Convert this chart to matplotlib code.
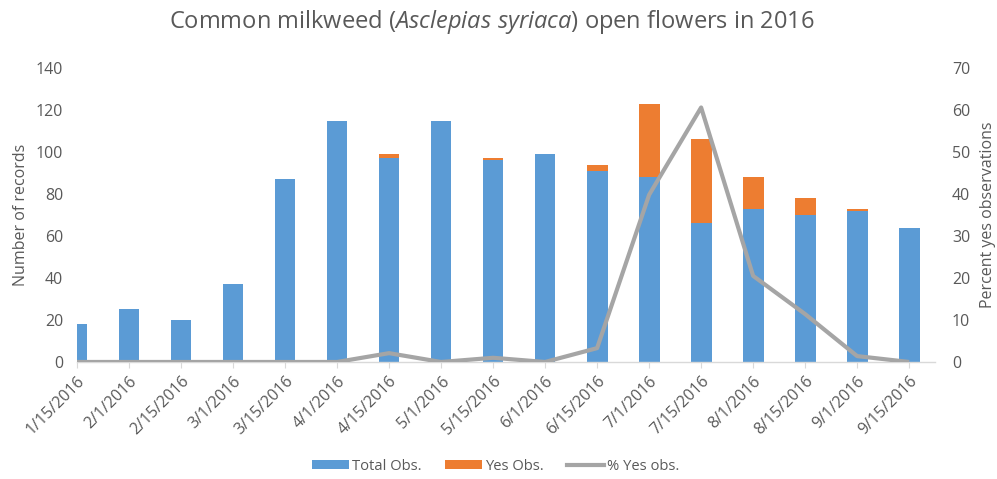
import matplotlib.pyplot as plt
import numpy as np
from matplotlib.patches import Patch
from matplotlib.lines import Line2D

plt.rcParams['font.family'] = ['Open Sans', 'DejaVu Sans']
plt.rcParams['mathtext.fontset'] = 'custom'
plt.rcParams['mathtext.rm'] = 'Open Sans'
plt.rcParams['mathtext.it'] = 'Open Sans:italic'

# data
dates = ['1/15/2016', '2/1/2016', '2/15/2016', '3/1/2016', '3/15/2016',
         '4/1/2016', '4/15/2016', '5/1/2016', '5/15/2016', '6/1/2016',
         '6/15/2016', '7/1/2016', '7/15/2016', '8/1/2016', '8/15/2016',
         '9/1/2016', '9/15/2016']
total_obs = [18, 25, 20, 37, 87, 115, 97, 115, 96, 99, 91, 88, 66, 73, 70, 72, 64]
yes_obs = [0, 0, 0, 0, 0, 0, 2, 0, 1, 0, 3, 35, 40, 15, 8, 1, 0]
pct_yes = [0, 0, 0, 0, 0, 0, 2.1, 0, 1.0, 0, 3.3, 39.8, 60.6, 20.5, 11.4, 1.4, 0]

blue = '#5B9BD5'
orange = '#ED7D31'
gray = '#A5A5A5'
txt = '#595959'

fig = plt.figure(figsize=(9.97, 4.79), dpi=100)
ax = fig.add_axes([0.0772, 0.2443, 0.8608, 0.6137])

x = np.arange(len(dates))
ax.bar(x, total_obs, width=0.4, color=blue)
ax.bar(x, yes_obs, width=0.4, bottom=total_obs, color=orange)

ax.set_xlim(0, len(dates) - 0.5)
ax.set_ylim(0, 140)
ax.set_yticks(range(0, 141, 20))
ax.set_xticks(x)
ax.set_xticklabels(dates, rotation=45, ha='right', rotation_mode='anchor')

for s in ['top', 'left', 'right']:
    ax.spines[s].set_visible(False)
ax.spines['bottom'].set_color('#D9D9D9')
ax.spines['bottom'].set_linewidth(1.0)
ax.tick_params(axis='y', length=0, pad=10, labelsize=11.5, labelcolor=txt)
ax.tick_params(axis='x', length=4, color='#D9D9D9', pad=4, labelsize=11.5, labelcolor=txt)
ax.set_ylabel('Number of records', fontsize=11.5, color=txt, labelpad=5)

ax2 = ax.twinx()
ax2.plot(x, pct_yes, color=gray, linewidth=3, solid_joinstyle='round', solid_capstyle='butt')
ax2.set_ylim(0, 70)
ax2.set_yticks(range(0, 71, 10))
for s in ['top', 'left', 'right', 'bottom']:
    ax2.spines[s].set_visible(False)
ax2.tick_params(axis='y', length=0, pad=12, labelsize=11.5, labelcolor=txt)
ax2.set_ylabel('Percent yes observations', fontsize=11.5, color=txt, labelpad=7)

fig.text(0.493, 0.954, r'Common milkweed ($\mathit{Asclepias\ syriaca}$) open flowers in 2016',
         ha='center', va='center', fontsize=17, color=txt)

handles = [Patch(facecolor=blue), Patch(facecolor=orange),
           Line2D([], [], color=gray, linewidth=3)]
labels = ['Total Obs.', 'Yes Obs.', '% Yes obs.']
fig.legend(handles, labels, loc='center', bbox_to_anchor=(0.497, 0.027), ncol=3,
           frameon=False, fontsize=10.6, labelcolor=txt, handlelength=2.5,
           handleheight=0.5, handletextpad=0.2, columnspacing=1.6)

fig.savefig('out.png', dpi=100)
